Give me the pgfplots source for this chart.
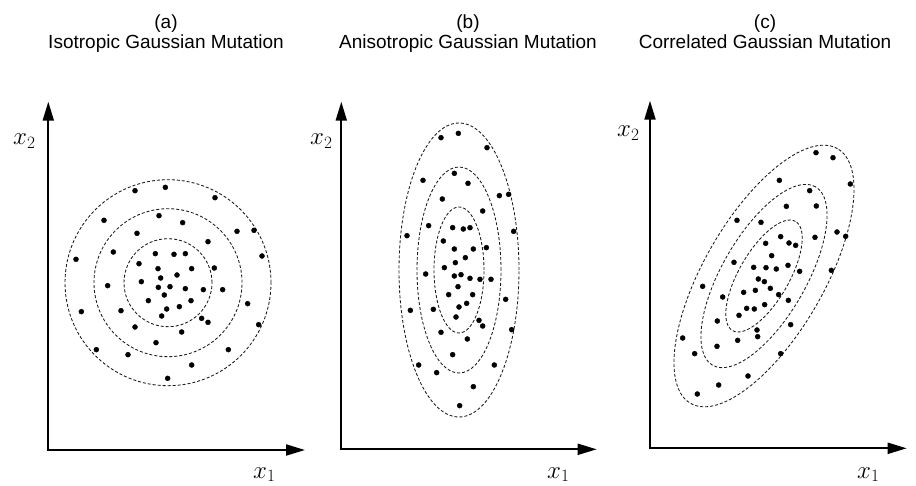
\documentclass[border=0pt]{standalone}
\usepackage{pgfplots}
\pgfplotsset{compat=1.18}
\usepackage{pgfplotstable}
\usepackage{fontspec}
\setmainfont{Liberation Sans}
\usetikzlibrary{arrows.meta}

% dot positions, read in 3x zoom pixel units of each panel
\pgfplotstableread{
405 92
496 82
645 113
312 181
477 167
548 188
411 220
711 214
762 211
624 245
228 298
340 276
786 288
466 281
522 283
556 281
417 311
474 326
575 326
643 324
531 345
482 354
323 377
424 365
475 382
510 380
556 386
610 389
668 389
493 405
445 422
573 422
743 431
244 455
363 452
500 447
538 440
485 468
605 475
624 487
405 501
776 494
545 516
468 548
289 569
384 584
685 569
575 615
503 655
}\dataA

\pgfplotstableread{
423 83
475 70
561 113
369 211
463 190
504 220
427 267
598 257
626 253
548 303
321 377
386 347
641 364
458 353
490 357
510 353
430 393
463 417
520 417
559 413
496 443
466 458
377 492
433 473
463 498
483 494
510 505
540 508
573 508
474 530
446 554
518 554
617 568
331 601
400 598
477 591
500 580
468 621
537 631
548 648
423 667
635 659
502 687
458 734
356 765
410 788
583 765
520 830
479 887
}\dataB

\pgfplotstableread{
648 68
699 83
751 162
538 151
629 182
559 229
649 228
411 271
483 277
711 306
737 319
645 322
542 320
497 340
567 339
587 346
515 377
402 397
461 412
498 413
529 417
564 406
599 424
694 421
475 447
493 455
308 469
431 487
466 481
511 475
536 494
368 501
565 511
494 524
440 535
463 537
417 556
352 573
572 584
471 600
248 624
413 631
473 620
351 649
284 671
542 671
444 738
356 765
292 792
}\dataC

\pgfplotsset{
  panel/.style={
    scale only axis, anchor=south west,
    axis lines=left,
    axis line style={line width=2pt, shorten <=-1pt, -{Triangle[length=19pt,width=11pt]}},
    xtick=\empty, ytick=\empty,
    enlargelimits=false, clip=false,
  },
  dots/.style={only marks, mark=*, mark size=2.5pt, black},
}
\tikzset{contour/.style={black!90, line width=0.85pt, dash pattern=on 3pt off 2pt}}

\begin{document}
\begin{tikzpicture}
\useasboundingbox (0pt,0pt) rectangle (916pt,485pt);

% ---------- panel (a)
\begin{axis}[panel, at={(48.3pt,35pt)}, width=256.7pt, height=348.3pt,
  xmin=48.3, xmax=305, ymin=-450, ymax=-101.7]
\addplot[dots] table[x expr=\thisrowno{0}/3, y expr=-(160+\thisrowno{1}/3)] {\dataA};
\draw[contour] (axis cs:168,-282.7) circle[radius=103pt];
\draw[contour] (axis cs:168,-282.7) circle[radius=74pt];
\draw[contour] (axis cs:168,-282.7) circle[radius=44pt];
\end{axis}

% ---------- panel (b)
\begin{axis}[panel, at={(341.3pt,35.7pt)}, width=255.4pt, height=347.6pt,
  xmin=341.3, xmax=596.7, ymin=-449.3, ymax=-101.7]
\addplot[dots] table[x expr=300+\thisrowno{0}/3, y expr=-(110+\thisrowno{1}/3)] {\dataB};
\draw[contour] (axis cs:459,-270) ellipse[x radius=60pt, y radius=147pt];
\draw[contour] (axis cs:459,-270) ellipse[x radius=42pt, y radius=103pt];
\draw[contour] (axis cs:459,-270) ellipse[x radius=25pt, y radius=63pt];
\end{axis}

% ---------- panel (c)
\begin{axis}[panel, at={(650pt,36.7pt)}, width=256.7pt, height=347.6pt,
  xmin=650, xmax=906.7, ymin=-448.3, ymax=-100.7]
\addplot[dots] table[x expr=600+\thisrowno{0}/3, y expr=-(130+\thisrowno{1}/3)] {\dataC};
\draw[contour, rotate around={60:(axis cs:764,-276)}] (axis cs:764,-276) ellipse[x radius=147pt, y radius=60pt];
\draw[contour, rotate around={60:(axis cs:764,-276)}] (axis cs:764,-276) ellipse[x radius=103pt, y radius=42pt];
\draw[contour, rotate around={60:(axis cs:764,-276)}] (axis cs:764,-276) ellipse[x radius=63pt, y radius=25pt];
\end{axis}

% ---------- titles
\begin{scope}[every node/.style={anchor=base, inner sep=0pt, font=\fontsize{19}{19}\selectfont}]
\node at (166pt,456pt) {(a)};
\node at (166pt,436pt) {Isotropic Gaussian Mutation};
\node at (468pt,456pt) {(b)};
\node at (468pt,436pt) {Anisotropic Gaussian Mutation};
\node at (765pt,456pt) {(c)};
\node at (765pt,436pt) {Correlated Gaussian Mutation};
\end{scope}

% ---------- axis labels
\begin{scope}[every node/.style={anchor=base west, inner sep=0pt, font=\fontsize{26}{26}\selectfont}]
\node at (13pt,340pt) {$x_2$};
\node at (310pt,340pt) {$x_2$};
\node at (617pt,348.3pt) {$x_2$};
\node at (253pt,7pt) {$x_1$};
\node at (547pt,7pt) {$x_1$};
\node at (857pt,7pt) {$x_1$};
\end{scope}
\end{tikzpicture}
\end{document}
